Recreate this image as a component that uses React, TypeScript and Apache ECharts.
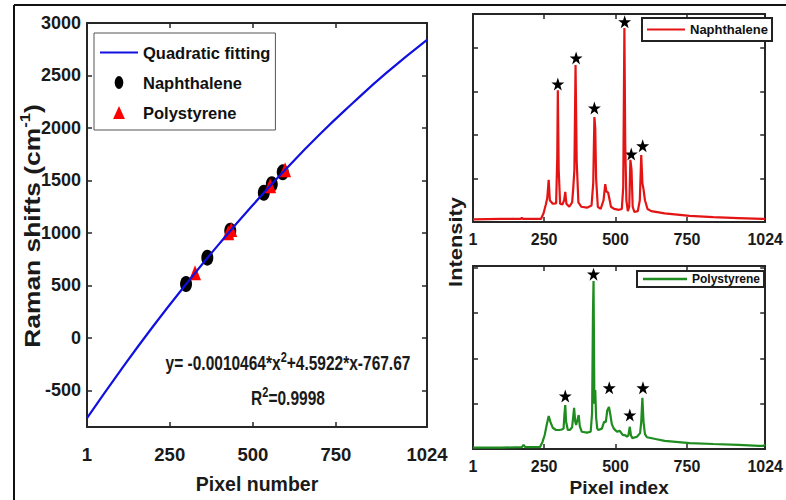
import React, { useEffect, useRef } from 'react';
import * as echarts from 'echarts';

// ---------- Left panel: calibration ----------
const xTickLabels = [1, 250, 500, 750, 1024];
const xTickMarks = [250, 500, 750];
const shiftTicks = [-500, 0, 500, 1000, 1500, 2000, 2500, 3000];

const fitPixel = [1, 100, 200, 300, 400, 500, 600, 700, 800, 900, 1024];
const fitShift = [-765, -320, 110, 515, 900, 1265, 1610, 1935, 2235, 2520, 2840];

const naphPixel = [299, 363, 432, 533, 557, 590];
const naphShift = [513, 764, 1021, 1382, 1464, 1577];

const polyPixel = [326, 426, 435, 552, 597];
const polyShift = [620, 1001, 1031, 1450, 1602];

// ---------- Right panels: spectra ----------
const naphSpecPixel = [1, 100, 168, 172, 176, 239, 248, 256, 261, 266, 270, 280, 292, 296, 298, 301, 306, 314, 320, 324, 328, 338, 348, 352, 356, 360, 364, 370, 380, 400, 416, 422, 426, 429, 432, 438, 448, 458, 464, 468, 474, 478, 484, 495, 512, 522, 527, 531, 534, 538, 543, 548, 552, 556, 560, 566, 578, 585, 590, 594, 598, 603, 612, 625, 672, 760, 842, 930, 1013, 1024];
const naphSpecIntensity = [0.06, 0.07, 0.07, 0.1, 0.07, 0.07, 0.2, 0.4, 0.55, 0.97, 0.5, 0.42, 0.43, 1.5, 3.03, 1.2, 0.42, 0.4, 0.5, 0.69, 0.42, 0.35, 0.45, 0.78, 1.2, 3.61, 1.4, 0.45, 0.35, 0.33, 0.38, 0.9, 2.41, 2.16, 1.0, 0.35, 0.3, 0.5, 0.87, 0.7, 0.68, 0.55, 0.35, 0.3, 0.28, 0.3, 0.8, 4.46, 1.8, 0.5, 0.25, 0.35, 1.43, 1.2, 0.35, 0.23, 0.25, 0.5, 1.54, 0.9, 0.75, 0.5, 0.3, 0.25, 0.2, 0.14, 0.11, 0.09, 0.07, 0.07];
const naphStarPixel = [298, 362, 426, 532, 555, 595];
const naphStarY = [3.17, 3.77, 2.62, 4.6, 1.56, 1.75];

const polySpecPixel = [1, 100, 172, 178, 184, 235, 244, 252, 258, 266, 272, 280, 292, 303, 312, 318, 321, 324, 327, 333, 340, 348, 355, 359, 362, 367, 371, 375, 382, 400, 413, 418, 421, 423, 426, 429, 432, 436, 440, 452, 460, 466, 471, 477, 482, 487, 494, 505, 515, 525, 535, 540, 545, 550, 554, 559, 575, 586, 590, 594, 598, 603, 610, 640, 672, 760, 842, 930, 1002, 1018, 1024];
const polySpecIntensity = [0.03, 0.03, 0.04, 0.09, 0.04, 0.04, 0.15, 0.31, 0.5, 0.73, 0.6, 0.47, 0.42, 0.42, 0.43, 0.45, 0.75, 0.97, 0.6, 0.42, 0.42, 0.48, 0.91, 0.6, 0.53, 0.65, 0.75, 0.5, 0.38, 0.36, 0.38, 0.8, 3.0, 3.71, 1.0, 1.3, 0.7, 0.45, 0.42, 0.45, 0.6, 0.6, 0.85, 0.93, 0.75, 0.55, 0.45, 0.38, 0.4, 0.31, 0.3, 0.27, 0.3, 0.49, 0.3, 0.24, 0.27, 0.35, 0.6, 1.13, 0.6, 0.33, 0.26, 0.22, 0.18, 0.13, 0.11, 0.09, 0.07, 0.07, 0.1];
const polyStarPixel = [324, 423, 478, 550, 596];
const polyStarY = [1.17, 3.86, 1.35, 0.75, 1.35];

const intensityTicks = [1, 2, 3, 4];

const zip = (a: number[], b: number[]) => a.map((v, i) => [v, b[i]]);

const SANS = "'Liberation Sans', Arial, Helvetica, sans-serif";
const AXIS = '#262626';
const TXT = '#1a1a1a';
const STAR = 'path://M50,0 L61.8,35.1 L98.1,35.1 L68.7,56.8 L79.4,91.9 L50,70 L20.6,91.9 L31.3,56.8 L1.9,35.1 L38.2,35.1 Z';
const LINE_ICON = 'path://M0,0 L76,0 L76,4 L0,4 Z';
const ELLIPSE_ICON = 'path://M4,0 A4,6 0 1,1 4,12 A4,6 0 1,1 4,0 Z';
const TRI_ICON = 'path://M5,0 L10,11 L0,11 Z';
const plain = (v: number) => String(v);

function xAxisPair(grid: number, labelFont: any, name?: string, nameGap?: number, nameFont?: any) {
  const line = { onZero: false, lineStyle: { color: AXIS, width: 2 } };
  const tick = { inside: true, length: 5, customValues: xTickMarks, lineStyle: { color: AXIS, width: 1.5 } };
  return [
    {
      gridIndex: grid, type: 'value', min: 1, max: 1024, position: 'bottom',
      axisLine: line, axisTick: tick, splitLine: { show: false },
      axisLabel: { customValues: xTickLabels, formatter: plain, ...labelFont },
      name, nameLocation: 'middle', nameGap, nameTextStyle: nameFont,
    },
    {
      gridIndex: grid, type: 'value', min: 1, max: 1024, position: 'top',
      axisLine: line, axisTick: tick, splitLine: { show: false }, axisLabel: { show: false },
    },
  ];
}

function yAxisPair(grid: number, min: number, max: number, ticks: number[], labelFont: any | null) {
  const line = { onZero: false, lineStyle: { color: AXIS, width: 2 } };
  const tick = { inside: true, length: 5, customValues: ticks, lineStyle: { color: AXIS, width: 1.5 } };
  return [
    {
      gridIndex: grid, type: 'value', min, max, position: 'left',
      axisLine: line, axisTick: tick, splitLine: { show: false },
      axisLabel: labelFont ? { customValues: ticks, formatter: plain, ...labelFont } : { show: false },
    },
    {
      gridIndex: grid, type: 'value', min, max, position: 'right',
      axisLine: line, axisTick: tick, splitLine: { show: false }, axisLabel: { show: false },
    },
  ];
}

function formulaText(text: string, x: number, y: number) {
  return {
    type: 'text', x, y, scaleY: 1.3,
    style: {
      text, align: 'center', verticalAlign: 'middle',
      rich: {
        a: { fontFamily: SANS, fontWeight: 'bold', fontSize: 15.5, lineHeight: 20, fill: TXT },
        s: { fontFamily: SANS, fontWeight: 'bold', fontSize: 11, verticalAlign: 'top', fill: TXT },
      },
    },
  };
}

export default function App() {
  const ref = useRef<HTMLDivElement>(null);

  useEffect(() => {
    if (!ref.current) return;
    const chart = echarts.init(ref.current, null, { renderer: 'svg' });

    const leftLabel = { color: TXT, fontFamily: SANS, fontWeight: 'bold', fontSize: 18.5, margin: 18 };
    const leftYLabel = { color: TXT, fontFamily: SANS, fontWeight: 'bold', fontSize: 18, margin: 6 };
    const rightLabel = { color: TXT, fontFamily: SANS, fontWeight: 'bold', fontSize: 16, margin: 9 };

    const option: any = {
      animation: false,
      backgroundColor: '#ffffff',
      grid: [
        { left: 87, top: 23, width: 340, height: 404 },
        { left: 473, top: 14, width: 300, height: 208 },
        { left: 473, top: 266, width: 300, height: 183 },
      ],
      xAxis: [
        ...xAxisPair(0, leftLabel, 'Pixel number', 47, { color: TXT, fontFamily: SANS, fontWeight: 'bold', fontSize: 19.5 }),
        ...xAxisPair(1, rightLabel),
        ...xAxisPair(2, rightLabel, 'Pixel index', 29, { color: TXT, fontFamily: SANS, fontWeight: 'bold', fontSize: 19 }),
      ],
      yAxis: [
        ...yAxisPair(0, -850, 3000, shiftTicks, leftYLabel),
        ...yAxisPair(1, 0, 4.78, intensityTicks, null),
        ...yAxisPair(2, 0, 4.04, intensityTicks, null),
      ],
      legend: [
        {
          data: [
            { name: 'Quadratic fitting', icon: LINE_ICON },
            { name: 'Naphthalene', icon: ELLIPSE_ICON },
            { name: 'Polystyrene', icon: TRI_ICON },
          ],
          orient: 'vertical', left: 94, top: 33,
          itemWidth: 38, itemHeight: 13, itemGap: 13,
          padding: [11, 5, 9, 6],
          borderColor: '#555', borderWidth: 1, backgroundColor: '#fff',
          selectedMode: false,
          textStyle: { color: '#111', fontFamily: SANS, fontWeight: 'bold', fontSize: 16.5 },
        },
        {
          data: [{ name: 'NaphSpec', icon: LINE_ICON }], formatter: () => 'Naphthalene',
          left: 642, top: 18, itemWidth: 38, itemHeight: 10,
          padding: [5, 4, 5, 5],
          borderColor: '#222', borderWidth: 2, backgroundColor: '#fff',
          selectedMode: false,
          textStyle: { color: '#111', fontFamily: SANS, fontWeight: 'bold', fontSize: 13 },
        },
        {
          data: [{ name: 'PolySpec', icon: LINE_ICON }], formatter: () => 'Polystyrene',
          left: 637, top: 271, itemWidth: 44, itemHeight: 8,
          padding: [2, 4, 2, 6],
          borderColor: '#222', borderWidth: 2, backgroundColor: '#fff',
          selectedMode: false,
          textStyle: { color: '#111', fontFamily: SANS, fontWeight: 'bold', fontSize: 12 },
        },
      ],
      series: [
        {
          name: 'Quadratic fitting', type: 'line', xAxisIndex: 0, yAxisIndex: 0,
          data: zip(fitPixel, fitShift), smooth: true, symbol: 'none',
          color: '#1010e0', lineStyle: { color: '#1010e0', width: 2.2 },
        },
        {
          name: 'Naphthalene', type: 'scatter', xAxisIndex: 0, yAxisIndex: 0,
          data: zip(naphPixel, naphShift), symbol: 'circle', symbolSize: [12, 16],
          color: '#000', itemStyle: { color: '#000', opacity: 1 },
        },
        {
          name: 'Polystyrene', type: 'scatter', xAxisIndex: 0, yAxisIndex: 0,
          data: zip(polyPixel, polyShift), symbol: 'triangle', symbolSize: [12, 15],
          color: '#ff0000', itemStyle: { color: '#ff0000', opacity: 1 },
        },
        {
          name: 'NaphSpec', type: 'line', xAxisIndex: 2, yAxisIndex: 2,
          data: zip(naphSpecPixel, naphSpecIntensity), symbol: 'none',
          color: '#e41414', lineStyle: { color: '#e41414', width: 2.2 },
        },
        {
          name: 'NaphStars', type: 'scatter', xAxisIndex: 2, yAxisIndex: 2,
          data: zip(naphStarPixel, naphStarY), symbol: STAR, symbolSize: 13,
          itemStyle: { color: '#000', opacity: 1 },
        },
        {
          name: 'PolySpec', type: 'line', xAxisIndex: 4, yAxisIndex: 4,
          data: zip(polySpecPixel, polySpecIntensity), symbol: 'none',
          color: '#1e8c1e', lineStyle: { color: '#1e8c1e', width: 2.2 },
        },
        {
          name: 'PolyStars', type: 'scatter', xAxisIndex: 4, yAxisIndex: 4,
          data: zip(polyStarPixel, polyStarY), symbol: STAR, symbolSize: 13,
          itemStyle: { color: '#000', opacity: 1 },
        },
      ],
      graphic: [
        { type: 'line', shape: { x1: 14, y1: 5, x2: 786, y2: 5 }, style: { stroke: '#111', lineWidth: 2 } },
        { type: 'line', shape: { x1: 14, y1: 5, x2: 14, y2: 500 }, style: { stroke: '#111', lineWidth: 2 } },
        {
          type: 'text', x: 32, y: 226, rotation: Math.PI / 2, scaleX: 1.2,
          style: {
            text: '{a|Raman shifts (cm}{s|-1}{a|)}',
            align: 'center', verticalAlign: 'middle',
            rich: {
              a: { fontFamily: SANS, fontWeight: 'bold', fontSize: 22, lineHeight: 28, fill: TXT },
              s: { fontFamily: SANS, fontWeight: 'bold', fontSize: 14, verticalAlign: 'top', fill: TXT },
            },
          },
        },
        {
          type: 'text', x: 455, y: 242, rotation: Math.PI / 2, scaleX: 1.15,
          style: {
            text: 'Intensity', align: 'center', verticalAlign: 'middle',
            fontFamily: SANS, fontWeight: 'bold', fontSize: 19, fill: TXT,
          },
        },
        formulaText('{a|y= -0.0010464*x}{s|2}{a|+4.5922*x-767.67}', 288, 363),
        formulaText('{a|R}{s|2}{a|=0.9998}', 288, 398),
      ],
    };

    chart.setOption(option);
    return () => chart.dispose();
  }, []);

  return (
    <div
      ref={ref}
      style={{ position: 'absolute', left: 0, top: 0, width: 786, height: 500, background: '#fff' }}
    />
  );
}
